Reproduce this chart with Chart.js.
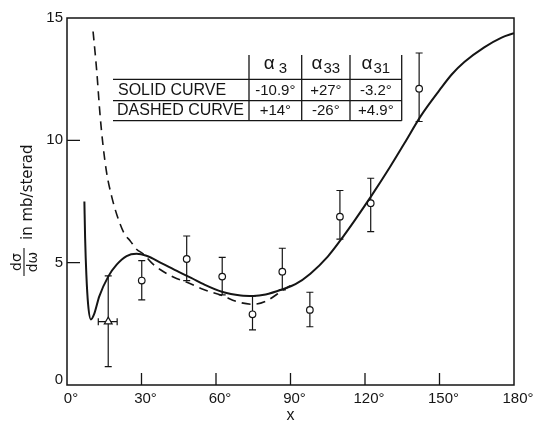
<!DOCTYPE html>
<html><head><meta charset="utf-8">
<script src="https://cdn.jsdelivr.net/npm/chart.js@4"></script>
<style>html,body{margin:0;padding:0;background:#fff}#wrap{width:536px;height:427px}</style>
</head><body><div id="wrap"><canvas id="c" width="536" height="427"></canvas></div>
<script>
const xTicks=[0,30,60,90,120,150,180];
const xTickLabels=['0°','30°','60°','90°','120°','150°','180°'];
const yTicks=[0,5,10,15];
const yTickLabels=['0','5','10','15'];
const xTitle='x';
const yTitleNum='dσ', yTitleDen='dω', yTitleRest='in mb/sterad';

const solidX=[7.0,7.3,7.8,8.5,9.6,11.0,13.0,16.7,20,24,28,32,38,45,50,55,62.7,70,75,80,87,92,98,105,110,116,122.7,130,136,142.5,150,155,160,168,175,180];
const solidY=[7.5,6.0,4.5,3.3,2.68,2.92,3.62,4.45,4.92,5.27,5.36,5.28,4.98,4.62,4.38,4.12,3.8,3.66,3.64,3.7,3.92,4.12,4.55,5.25,5.9,6.75,7.75,8.9,9.9,11.0,12.05,12.7,13.2,13.8,14.2,14.38];

const dashedX=[10.5,11.3,12.0,13.3,14.5,16.0,18.0,20.1,23,25.4,28,30.8,34,37.5,43,48.3,55,62.7,68,75,80,87.3,91];
const dashedY=[14.45,13.6,12.8,11.05,9.8,8.65,7.7,6.95,6.2,5.9,5.55,5.35,5.0,4.72,4.4,4.2,3.9,3.65,3.42,3.3,3.42,3.9,4.12];

const obsX=[30.1,48.2,62.5,74.7,86.7,97.8,109.9,122.3,141.8];
const obsY=[4.27,5.15,4.43,2.89,4.63,3.07,6.88,7.43,12.11];
const obsLow=[3.48,4.27,3.68,2.25,3.89,2.38,5.96,6.27,10.77];
const obsHigh=[5.08,6.09,5.22,3.64,5.59,3.79,7.95,8.45,13.57];

const triX=[16.6], triY=[2.59], triLow=[0.75], triHigh=[4.46], triXLow=[12.6], triXHigh=[20.2];

const tableHead=['3','33','31'];
const tableRows=['SOLID CURVE','DASHED CURVE'];
const solidAngles=['-10.9°','+27°','-3.2°'];
const dashedAngles=['+14°','-26°','+4.9°'];

const INK='#151515';
const zip=(xs,ys)=>xs.map((x,i)=>({x:x,y:ys[i]}));

const deco={
  id:'deco',
  beforeDatasetsDraw(chart){
    const ctx=chart.ctx, xs=chart.scales.x, ys=chart.scales.y;
    ctx.save();
    ctx.strokeStyle=INK; ctx.lineWidth=1.2;
    const vbar=(px,lo,hi)=>{
      const a=ys.getPixelForValue(lo), b=ys.getPixelForValue(hi);
      ctx.beginPath();
      ctx.moveTo(px,a);ctx.lineTo(px,b);
      ctx.moveTo(px-3.5,a);ctx.lineTo(px+3.5,a);
      ctx.moveTo(px-3.5,b);ctx.lineTo(px+3.5,b);
      ctx.stroke();
    };
    obsX.forEach((x,i)=>vbar(xs.getPixelForValue(x),obsLow[i],obsHigh[i]));
    triX.forEach((x,i)=>{
      vbar(xs.getPixelForValue(x),triLow[i],triHigh[i]);
      const py=ys.getPixelForValue(triY[i]);
      const a=xs.getPixelForValue(triXLow[i]), b=xs.getPixelForValue(triXHigh[i]);
      ctx.beginPath();
      ctx.moveTo(a,py);ctx.lineTo(b,py);
      ctx.moveTo(a,py-3.5);ctx.lineTo(a,py+3.5);
      ctx.moveTo(b,py-3.5);ctx.lineTo(b,py+3.5);
      ctx.stroke();
    });
    ctx.restore();
  },
  afterDatasetsDraw(chart){
    const ctx=chart.ctx, xs=chart.scales.x, ys=chart.scales.y, ca=chart.chartArea;
    ctx.save();
    // frame
    ctx.strokeStyle=INK; ctx.lineWidth=1.5;
    ctx.strokeRect(ca.left,ca.top,ca.right-ca.left,ca.bottom-ca.top);
    // ticks
    ctx.lineWidth=1.3;
    ctx.beginPath();
    xTicks.forEach(v=>{const p=xs.getPixelForValue(v); if(v>0&&v<180){ctx.moveTo(p,ca.bottom);ctx.lineTo(p,ca.bottom-12);}});
    yTicks.forEach(v=>{const p=ys.getPixelForValue(v); if(v>0&&v<15){ctx.moveTo(ca.left,p);ctx.lineTo(ca.left+13,p);}});
    ctx.stroke();
    // tick labels
    ctx.fillStyle=INK;
    ctx.font='15px "Liberation Sans", Arial, sans-serif';
    ctx.textAlign='center'; ctx.textBaseline='middle';
    xTicks.forEach((v,i)=>{ctx.fillText(xTickLabels[i],xs.getPixelForValue(v)+4,399);});
    ctx.textAlign='right';
    yTicks.forEach((v,i)=>{let p=ys.getPixelForValue(v); if(v===0)p-=5; ctx.fillText(yTickLabels[i],63,p);});
    // x title
    ctx.textAlign='center';
    ctx.font='16px "Liberation Sans", Arial, sans-serif';
    ctx.fillText(xTitle,xs.getPixelForValue(90),416);
    // y title
    ctx.save();
    ctx.translate(26,210); ctx.rotate(-Math.PI/2);
    ctx.font='15px "DejaVu Sans", sans-serif';
    ctx.textAlign='left'; ctx.textBaseline='alphabetic';
    ctx.fillText(yTitleRest,-30,6);
    ctx.font='14px "DejaVu Sans", sans-serif';
    ctx.textAlign='center';
    ctx.fillText(yTitleNum,-52,-5);
    ctx.fillText(yTitleDen,-52,11);
    ctx.lineWidth=1.1;
    ctx.beginPath();ctx.moveTo(-66,-2);ctx.lineTo(-38,-2);ctx.stroke();
    ctx.restore();
    // table
    const L=113, colX=[249,301.7,350,401.7], rowY=[79.3,100.7,120.7], topY=55;
    ctx.lineWidth=1.3;
    ctx.beginPath();
    rowY.forEach(y=>{ctx.moveTo(L,y);ctx.lineTo(colX[3],y);});
    colX.forEach(x=>{ctx.moveTo(x,topY);ctx.lineTo(x,rowY[2]);});
    ctx.stroke();
    for(let j=0;j<3;j++){
      const cx=(colX[j]+colX[j+1])/2;
      ctx.font='19px "Liberation Sans", Arial, sans-serif';
      const aw=ctx.measureText('α').width;
      ctx.font='15px "Liberation Sans", Arial, sans-serif';
      const sw=ctx.measureText(tableHead[j]).width;
      const gap=tableHead[j].length===1?4:1;
      const start=cx-(aw+gap+sw)/2;
      ctx.textAlign='left'; ctx.textBaseline='alphabetic';
      ctx.font='19px "Liberation Sans", Arial, sans-serif';
      ctx.fillText('α',start,69);
      ctx.font='15px "Liberation Sans", Arial, sans-serif';
      ctx.fillText(tableHead[j],start+aw+gap,73);
    }
    ctx.font='16px "Liberation Sans", Arial, sans-serif';
    ctx.textBaseline='middle'; ctx.textAlign='left';
    ctx.fillText(tableRows[0],118,90.5);
    ctx.fillText(tableRows[1],117,111);
    ctx.font='15px "Liberation Sans", Arial, sans-serif';
    ctx.textAlign='center';
    for(let j=0;j<3;j++){
      const cx=(colX[j]+colX[j+1])/2;
      ctx.fillText(solidAngles[j],cx,90.5);
      ctx.fillText(dashedAngles[j],cx,111);
    }
    ctx.restore();
  }
};

new Chart(document.getElementById('c'),{
  type:'scatter',
  data:{datasets:[
    {data:zip(solidX,solidY),showLine:true,borderColor:INK,borderWidth:2,pointRadius:0,cubicInterpolationMode:'monotone',fill:false},
    {data:zip(dashedX,dashedY),showLine:true,borderColor:INK,borderWidth:1.6,borderDash:[9,6],pointRadius:0,cubicInterpolationMode:'monotone',fill:false},
    {data:zip(obsX,obsY),showLine:false,pointStyle:'circle',pointRadius:3.3,pointBorderWidth:1.2,pointBorderColor:INK,pointBackgroundColor:'#fff'},
    {data:zip(triX,triY),showLine:false,pointStyle:'triangle',pointRadius:4.5,pointBorderWidth:1.2,pointBorderColor:INK,pointBackgroundColor:'#fff'}
  ]},
  options:{
    responsive:false,animation:false,devicePixelRatio:1,
    layout:{padding:{left:67,right:22,top:18,bottom:42}},
    plugins:{legend:{display:false},tooltip:{enabled:false}},
    scales:{
      x:{type:'linear',min:0,max:180,display:false},
      y:{type:'linear',min:0,max:15,display:false}
    }
  },
  plugins:[deco]
});
</script></body></html>
